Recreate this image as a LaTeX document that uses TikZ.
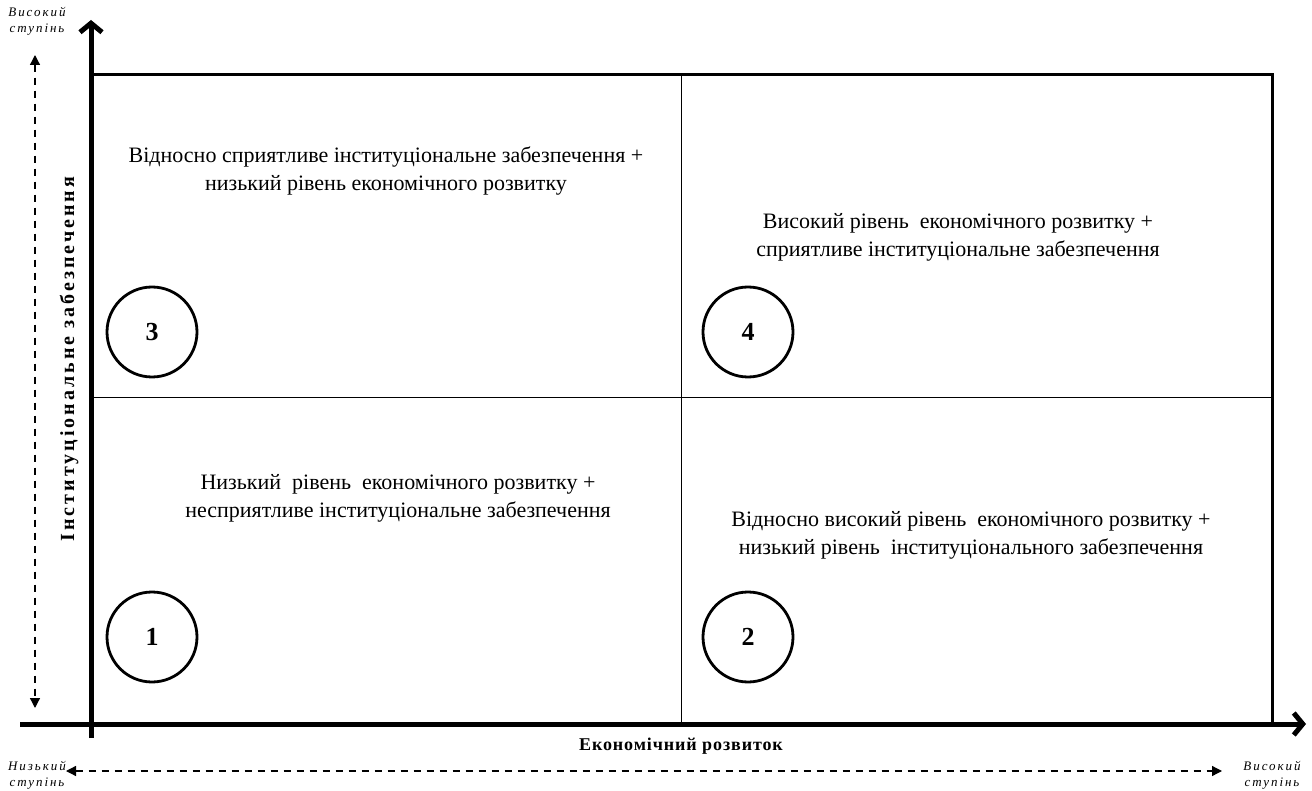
\documentclass[tikz,border=0pt]{standalone}
\usepackage{fontspec}
\setmainfont{Liberation Serif}
\usetikzlibrary{arrows.meta}

\tikzset{
  quadtext/.style={align=center, font=\fontsize{22}{28}\selectfont},
  num/.style={draw, circle, line width=2.8pt, minimum size=90pt, inner sep=0pt, font=\fontsize{26}{26}\selectfont\bfseries},
  degree/.style={align=center, font=\fontsize{13}{16}\selectfont\itshape\addfontfeature{LetterSpace=15}},
  xaxislabel/.style={font=\fontsize{18}{18}\selectfont\bfseries\addfontfeature{LetterSpace=5}},
  yaxislabel/.style={rotate=90, font=\fontsize{20}{20}\selectfont\bfseries\addfontfeature{LetterSpace=15}},
  scale arrow/.style={dashed, line width=1.3pt, dash pattern=on 7pt off 6pt, {Triangle[length=10pt,width=10pt]}-{Triangle[length=10pt,width=10pt]}}
}

\begin{document}
\begin{tikzpicture}[x=1pt, y=-1pt]
\useasboundingbox (0,0) rectangle (1312,791);

% corners of the field
\coordinate (o) at (91,724);
\coordinate (tl) at (91,75);
\coordinate (tr) at (1272,75);
\coordinate (br) at (1272,724);
\coordinate (tm) at (681,75);
\coordinate (bm) at (681,724);
\coordinate (lm) at (91,398);
\coordinate (rm) at (1272,398);

% dividers and frame
\draw[line width=1pt] (tm) -- (bm);
\draw[line width=1pt] (lm) -- (rm);
\draw[line width=3pt] (tl) -- (tr) -- (br);

% axes
\coordinate (ybot) at (91,738);
\coordinate (ytop) at (91,20);
\coordinate (xleft) at (20,724);
\coordinate (xright) at (1306,724);
\draw[line width=5pt, -{Straight Barb[length=9pt,width=22pt]}] (ybot) -- (ytop);
\draw[line width=5pt, -{Straight Barb[length=9pt,width=22pt]}] (xleft) -- (xright);

% scale arrows
\node[degree] (hi1) at (37,21) {Високий\\ступінь};
\node[degree] (lo) at (37,775) {Низький\\ступінь};
\node[degree] (hi2) at (1272,775) {Високий\\ступінь};
\coordinate (vs) at (35,55);
\coordinate (ve) at (35,708);
\coordinate (hs) at (66,771);
\coordinate (he) at (1222,771);
\draw[scale arrow] (vs) -- (ve);
\draw[scale arrow] (hs) -- (he);

% axis titles
\node[xaxislabel] (xlab) at (681,746) {Економічний розвиток};
\node[yaxislabel] (ylab) at (69,359) {Інституціональне забезпечення};

% quadrants
\node[quadtext] (q3) at (386,171) {Відносно сприятливе інституціональне забезпечення +\\низький рівень економічного розвитку};
\node[quadtext] (q4) at (958,237) {Високий рівень\ \ економічного розвитку +\\сприятливе інституціональне забезпечення};
\node[quadtext] (q1) at (398,498) {Низький\ \ рівень\ \ економічного розвитку +\\несприятливе інституціональне забезпечення};
\node[quadtext] (q2) at (971,535) {Відносно високий рівень\ \ економічного розвитку +\\низький рівень\ \ інституціонального забезпечення};

\node[num] (n3) at (152,332) {3};
\node[num] (n4) at (748,332) {4};
\node[num] (n1) at (152,637) {1};
\node[num] (n2) at (748,637) {2};
\end{tikzpicture}
\end{document}
